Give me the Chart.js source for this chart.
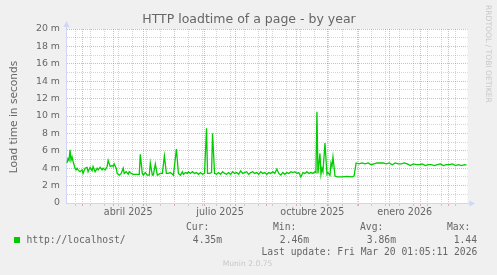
<!DOCTYPE html>
<html>
<head>
<meta charset="utf-8">
<script src="https://cdn.jsdelivr.net/npm/chart.js@4.4.0/dist/chart.umd.min.js"></script>
<style>
  html, body { margin: 0; padding: 0; background: #f0f0f0; }
  canvas { display: block; }
</style>
</head>
<body>
<canvas id="myChart" width="497" height="275"></canvas>
<script>
// days since start of the 400 day window, load time in ms
const days = [
  1, 2, 3, 4, 5, 6, 7, 9, 10, 11, 12, 14, 16, 17, 19, 21, 22, 24, 26, 27,
  29, 31, 32, 34, 36, 37, 39, 41, 42, 44, 46, 47, 48, 50, 51, 53, 55, 57, 58, 60,
  62, 63, 65, 67, 70, 73, 74, 76, 77, 79, 81, 83, 84, 86, 87, 89, 91, 94, 96, 98,
  100, 102, 104, 106, 107, 110, 112, 114, 116, 117, 119, 121, 122, 124, 126, 128, 130, 132, 134, 136,
  138, 140, 141, 143, 145, 146, 148, 150, 152, 154, 156, 158, 160, 162, 164, 166, 168, 170, 172, 174,
  176, 178, 180, 182, 184, 186, 188, 190, 192, 194, 196, 198, 200, 202, 204, 206, 208, 210, 212, 214,
  216, 218, 220, 222, 224, 226, 228, 230, 232, 234, 236, 238, 240, 242, 244, 246, 248, 249, 250, 251,
  253, 254, 255, 256, 258, 260, 261, 263, 264, 265, 266, 267, 268, 270, 275, 280, 285, 287, 289, 292,
  295, 298, 301, 304, 307, 310, 313, 316, 319, 322, 325, 328, 331, 334, 337, 340, 343, 346, 349, 352,
  355, 358, 361, 364, 367, 370, 373, 376, 379, 382, 385, 388, 391, 394, 397, 399
];
const loadMs = [
  4.6, 5.1, 4.9, 6.1, 4.9, 5.3, 4.8, 4.0, 3.8, 4.0, 3.8, 3.6, 3.8, 3.4, 4.0, 4.1, 3.6, 4.1, 3.7, 4.2,
  3.6, 4.0, 3.8, 4.1, 3.8, 4.0, 3.8, 4.2, 4.9, 4.2, 4.3, 4.2, 4.5, 4.0, 3.4, 3.2, 3.4, 4.0, 3.4, 3.6,
  3.3, 3.6, 3.4, 3.3, 3.3, 3.3, 5.6, 3.4, 3.2, 3.5, 3.2, 3.2, 4.6, 3.2, 3.2, 4.5, 3.2, 3.4, 3.4, 5.4,
  3.4, 3.4, 3.5, 3.3, 3.2, 6.2, 3.4, 3.2, 3.6, 3.3, 3.5, 3.4, 3.6, 3.4, 3.6, 3.4, 3.5, 3.3, 3.5, 3.3,
  3.4, 8.6, 3.4, 3.4, 3.5, 8.0, 3.4, 3.3, 3.5, 3.3, 3.6, 3.4, 3.3, 3.5, 3.3, 3.6, 3.4, 3.5, 3.3, 3.7,
  3.4, 3.5, 3.6, 3.3, 3.5, 3.6, 3.4, 3.5, 3.3, 3.6, 3.4, 3.5, 3.3, 3.5, 3.4, 3.6, 3.4, 3.9, 3.4, 3.2,
  3.5, 3.3, 3.5, 3.4, 3.6, 3.5, 3.6, 3.4, 3.5, 3.0, 3.5, 3.4, 3.6, 3.4, 3.5, 3.4, 3.6, 3.5, 10.5, 3.4,
  5.7, 3.3, 4.0, 3.6, 6.9, 3.3, 3.5, 3.2, 4.6, 4.2, 5.3, 4.2, 3.1, 3.0, 3.0, 3.05, 3.0, 3.1, 4.6, 4.5,
  4.6, 4.5, 4.6, 4.4, 4.5, 4.6, 4.6, 4.6, 4.5, 4.6, 4.4, 4.6, 4.5, 4.5, 4.6, 4.5, 4.3, 4.5, 4.4, 4.4,
  4.5, 4.3, 4.4, 4.4, 4.3, 4.4, 4.5, 4.3, 4.4, 4.4, 4.5, 4.3, 4.4, 4.3, 4.4, 4.35
];

// axis labels (month labels sit in the middle of their month)
const xTickMonths = [[2025, 3], [2025, 6], [2025, 9], [2026, 0]];
const xTickLabels = ["abril 2025", "julio 2025", "octubre 2025", "enero 2026"];
const yMax = 20;

// legend
const seriesName = "http://localhost/";
const statNames = ["Cur:", "Min:", "Avg:", "Max:"];
const statValues = ["4.35m", "2.46m", "3.86m", "1.44"];
const lastUpdate = "Last update: Fri Mar 20 01:05:11 2026";

const endMs = Date.UTC(2026, 2, 20, 1, 5, 11);
const startMs = endMs - 400 * 86400000;
function dayOf(y, m, d) {
  return (Date.UTC(y, m, d) - startMs) / 86400000;
}

const FONT = "#666666";
const AXIS = "#cfd6f8";
const MAJOR = "rgba(222,79,79,0.45)";
const MINOR = "rgba(143,143,143,0.38)";

function buildXTicks() {
  var ticks = [];
  var monthStarts = [];
  for (var y = 2025; y <= 2026; y++) {
    for (var m = 0; m < 12; m++) {
      var v = dayOf(y, m, 1);
      if (v > 0 && v < 400) {
        monthStarts.push(v);
        ticks.push({ value: v, kind: "major" });
      }
    }
  }
  // minor lines every two weeks (sundays)
  for (var v = dayOf(2025, 1, 23); v < 400; v += 14) {
    if (v > 0 && !monthStarts.some((s) => Math.abs(s - v) < 0.01)) {
      ticks.push({ value: v, kind: "minor" });
    }
  }
  for (var i = 0; i < xTickMonths.length; i++) {
    var a = dayOf(xTickMonths[i][0], xTickMonths[i][1], 1);
    var b = dayOf(xTickMonths[i][0], xTickMonths[i][1] + 1, 1);
    ticks.push({ value: (a + b) / 2, kind: "label", text: xTickLabels[i] });
  }
  ticks.sort((p, q) => p.value - q.value);
  return ticks;
}

function gridColor(c) {
  if (!c.tick) return "rgba(0,0,0,0)";
  if (c.tick.kind === "major") return MAJOR;
  if (c.tick.kind === "minor") return MINOR;
  return "rgba(0,0,0,0)";
}

const extras = {
  id: "extras",
  beforeDraw(chart) {
    const ctx = chart.ctx;
    const a = chart.chartArea;
    ctx.save();
    ctx.fillStyle = "#f0f0f0";
    ctx.fillRect(0, 0, chart.width, chart.height);
    ctx.fillStyle = "#ffffff";
    ctx.fillRect(a.left, a.top, a.right - a.left, a.bottom - a.top);
    ctx.restore();
  },
  afterDraw(chart) {
    const ctx = chart.ctx;
    const a = chart.chartArea;
    ctx.save();
    // axis extensions and arrows
    ctx.strokeStyle = AXIS;
    ctx.lineWidth = 1;
    ctx.beginPath();
    ctx.moveTo(a.left + 0.5, a.top);
    ctx.lineTo(a.left + 0.5, a.top - 3);
    ctx.moveTo(a.right, a.bottom + 0.5);
    ctx.lineTo(a.right + 3, a.bottom + 0.5);
    ctx.stroke();
    ctx.fillStyle = AXIS;
    ctx.beginPath();
    ctx.moveTo(a.left + 0.5, a.top - 8);
    ctx.lineTo(a.left - 2.5, a.top - 2);
    ctx.lineTo(a.left + 3.5, a.top - 2);
    ctx.closePath();
    ctx.fill();
    ctx.beginPath();
    ctx.moveTo(a.right + 7.5, a.bottom + 0.5);
    ctx.lineTo(a.right + 2, a.bottom - 2.5);
    ctx.lineTo(a.right + 2, a.bottom + 3.5);
    ctx.closePath();
    ctx.fill();

    // title
    ctx.fillStyle = FONT;
    ctx.textBaseline = "middle";
    ctx.textAlign = "center";
    ctx.font = "12.5px 'DejaVu Sans'";
    ctx.fillText("HTTP loadtime of a page - by year", 249, 19.5);

    // y axis title
    ctx.save();
    ctx.translate(14.5, 117);
    ctx.rotate(-Math.PI / 2);
    ctx.font = "10.6px 'DejaVu Sans'";
    ctx.fillText("Load time in seconds", 0, 0);
    ctx.restore();

    // watermark
    ctx.save();
    ctx.fillStyle = "#c8c8c8";
    ctx.translate(487.5, 5);
    ctx.rotate(Math.PI / 2);
    ctx.textAlign = "left";
    ctx.font = "7.6px 'DejaVu Sans'";
    ctx.fillText("RRDTOOL / TOBI OETIKER", 0, 0);
    ctx.restore();
    ctx.fillStyle = "#c8c8c8";
    ctx.textAlign = "center";
    ctx.font = "7.6px 'DejaVu Sans'";
    ctx.fillText("Munin 2.0.75", 247.5, 264);

    // legend
    ctx.fillStyle = "#00cc00";
    ctx.fillRect(14, 237, 6, 6);
    ctx.fillStyle = FONT;
    ctx.font = "9.7px 'DejaVu Sans Mono'";
    ctx.textAlign = "left";
    ctx.fillText(seriesName, 26.5, 240);
    const statX = [186, 273, 360, 447];
    const valRight = [222, 309, 396, 477];
    for (var i = 0; i < statNames.length; i++) {
      ctx.textAlign = "left";
      ctx.fillText(statNames[i], statX[i], 227.5);
      ctx.textAlign = "right";
      ctx.fillText(statValues[i], valRight[i], 240);
    }
    ctx.textAlign = "left";
    ctx.fillText(lastUpdate, 261.5, 252);
    ctx.restore();
  },
};

new Chart("myChart", {
  type: "line",
  data: {
    datasets: [
      {
        label: seriesName,
        data: days.map((d, i) => ({ x: d, y: loadMs[i] })),
        borderColor: "#00cc00",
        borderWidth: 1.3,
        pointRadius: 0,
        tension: 0,
        fill: false,
      },
    ],
  },
  options: {
    responsive: false,
    animation: false,
    devicePixelRatio: 1,
    layout: { padding: { top: 29, right: 29.5, left: 0, bottom: 0 } },
    plugins: { legend: { display: false }, title: { display: false }, tooltip: { enabled: false } },
    scales: {
      x: {
        type: "linear",
        min: 0,
        max: 400,
        afterFit: (scale) => { scale.height = 72; },
        afterBuildTicks: (scale) => { scale.ticks = buildXTicks(); },
        ticks: {
          autoSkip: false,
          maxRotation: 0,
          minRotation: 0,
          padding: 1,
          color: FONT,
          font: { family: "DejaVu Sans", size: 9.6 },
          callback: (v, i, ticks) => (ticks[i].kind === "label" ? ticks[i].text : ""),
        },
        grid: {
          color: gridColor,
          tickColor: gridColor,
          tickLength: 3,
          lineWidth: 1,
        },
        border: { color: AXIS, width: 1, dash: [1, 1] },
      },
      y: {
        min: 0,
        max: yMax,
        afterFit: (scale) => { scale.width = 66; },
        ticks: {
          stepSize: 1,
          autoSkip: false,
          padding: 6,
          color: FONT,
          font: { family: "DejaVu Sans", size: 9.4 },
          callback: (v) => (v === 0 ? "0" : v % 2 === 0 ? v + " m" : ""),
        },
        grid: {
          color: (c) => (c.tick.value === 0 ? "rgba(0,0,0,0)" : c.tick.value % 2 === 0 ? MAJOR : MINOR),
          drawTicks: false,
          lineWidth: 1,
        },
        border: { color: AXIS, width: 1, dash: [1, 1] },
      },
    },
  },
  plugins: [extras],
});
</script>
</body>
</html>
